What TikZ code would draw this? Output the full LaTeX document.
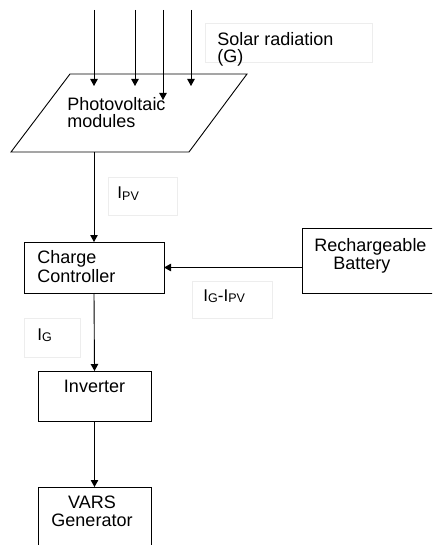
\documentclass[tikz,border=0pt]{standalone}
\usepackage{fontspec}
\setmainfont{Liberation Sans}
\usetikzlibrary{arrows.meta}
\newcommand\txtbig{\fontsize{18}{17}\selectfont}
\newcommand\cursub[1]{\raisebox{-1.5pt}{\fontsize{12.5}{12.5}\selectfont #1}}
\begin{document}
\begin{tikzpicture}[x=1pt,y=-1pt,line width=0.9pt,
  arr/.style={-{Triangle[length=7pt,width=7.5pt]}},
  blk/.style={draw,rectangle,inner sep=0pt,outer sep=0pt,anchor=north west},
  txt/.style={inner sep=0pt,anchor=north west,font=\txtbig,align=left},
  lbl/.style={draw=black!7,line width=0.6pt,rectangle,anchor=north west,inner sep=0pt},
  cur/.style={inner sep=0pt,anchor=base west,font=\fontsize{17}{17}\selectfont}]
\useasboundingbox (0,0) rectangle (432,545);
\clip (0,0) rectangle (432,545);

% solar radiation label
\node[lbl,minimum width=167pt,minimum height=39pt] (solbox) at (205,23) {};
\node[txt] (sol) at (217,32) {Solar radiation\\(G)};

% photovoltaic modules (parallelogram)
\coordinate (pvTL) at (70,74);
\coordinate (pvTR) at (247,74);
\coordinate (pvBR) at (189,152);
\coordinate (pvBL) at (11,152);
\draw (pvTL) -- (pvTR) -- (pvBR) -- (pvBL) -- cycle;
\node[txt] (pv) at (67,97) {Photovoltaic\\modules};
\coordinate (pvout) at (94,152);

% rays
\foreach \i/\x/\y in {1/94/86,2/135/86,3/163/100,4/191/86} {
  \coordinate (r\i s) at (\x,10);
  \coordinate (r\i e) at (\x,\y);
  \draw[arr] (r\i s) -- (r\i e);
}

% blocks
\node[blk,minimum width=140pt,minimum height=51pt] (cc) at (24,242) {};
\node[blk,minimum width=140pt,minimum height=65pt] (bat) at (302,228) {};
\node[blk,minimum width=113pt,minimum height=50pt] (inv) at (38,371) {};
\node[blk,minimum width=113pt,minimum height=70pt] (vars) at (38,487) {};

\node[txt,font=\fontsize{18}{19}\selectfont] (cct) at (37,250) {Charge\\Controller};
\node[txt,font=\fontsize{18}{18}\selectfont] (batt) at (314,238) {Rechargeable\\\hspace*{19pt}Battery};
\node[txt,anchor=north] (invt) at (94.5,380) {Inverter};
\node[txt,anchor=north,align=center,font=\fontsize{18}{18}\selectfont] (varst) at (92,495) {VARS\\Generator};

% connectors
\draw[arr] (pvout) -- (cc.north);
\draw[arr] (bat.west |- cc.east) -- (cc.east);
\draw[arr] (cc.south) -- (inv.north);
\draw[arr] (inv.south) -- (vars.north);

% current labels
\node[lbl,minimum width=69pt,minimum height=38pt] (ipvbox) at (108,177) {};
\node[cur] (ipv) at (117,199) {I\cursub{PV}};
\node[lbl,minimum width=80pt,minimum height=37pt] (igpvbox) at (192,281) {};
\node[cur] (igpv) at (203,301) {I\cursub{G}-I\cursub{PV}};
\node[lbl,minimum width=56pt,minimum height=39pt] (igbox) at (24,318) {};
\node[cur] (ig) at (37,340) {I\cursub{G}};
\end{tikzpicture}
\end{document}
